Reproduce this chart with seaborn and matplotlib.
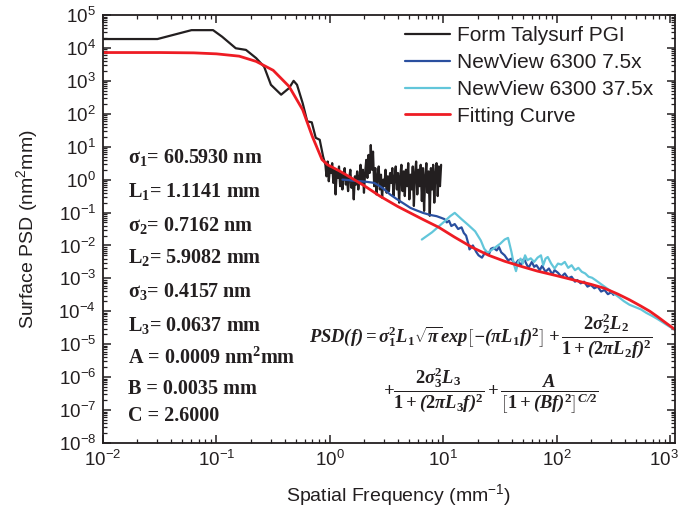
import numpy as np
import pandas as pd
import matplotlib
matplotlib.use("Agg")
import matplotlib.pyplot as plt
from matplotlib.ticker import LogLocator, NullFormatter
from matplotlib.transforms import ScaledTranslation
import seaborn as sns

# ---------------- data (log10 of frequency [mm^-1] and PSD [nm^2 mm]) -------------
talysurf_logf = [-2.0, -1.52, -1.22, -1.03, -0.95, -0.83, -0.74, -0.65, -0.58, -0.52, -0.43, -0.36, -0.32,
                 -0.29, -0.24, -0.20, -0.16, -0.125, -0.09, -0.06,
                 -0.04, -0.03, -0.02, -0.01, 0.0, 0.01, 0.02, 0.03, 0.04, 0.05, 0.06, 0.07, 0.08, 0.09, 0.10,
                 0.11, 0.12, 0.13, 0.14, 0.15, 0.16, 0.17, 0.18, 0.19, 0.20, 0.21, 0.22, 0.23, 0.24, 0.25,
                 0.26, 0.27, 0.28, 0.29, 0.30, 0.31, 0.32, 0.33, 0.34, 0.35, 0.36, 0.37, 0.38, 0.39, 0.40,
                 0.41, 0.42, 0.43, 0.44, 0.45, 0.46, 0.47, 0.48, 0.49, 0.50, 0.51, 0.52, 0.53, 0.54, 0.55,
                 0.56, 0.57, 0.58, 0.59, 0.60, 0.61, 0.62, 0.63, 0.64, 0.65, 0.66, 0.67, 0.68, 0.69, 0.70,
                 0.71, 0.72, 0.73, 0.74, 0.75, 0.76, 0.77, 0.78, 0.79, 0.80, 0.81, 0.82, 0.83, 0.84, 0.85,
                 0.86, 0.87, 0.88, 0.89, 0.90, 0.91, 0.92, 0.93, 0.94, 0.95, 0.96, 0.97, 0.98]
talysurf_logpsd = [4.27, 4.27, 4.54, 4.54, 4.34, 3.99, 3.94, 3.69, 3.43, 2.88, 2.58, 2.78, 3.0,
                   2.88, 2.32, 1.77, 1.74, 1.27, 1.21, 0.70,
                   0.45, 0.10, 0.55, -0.05, 0.35, 0.20, 0.50, -0.10, 0.30, -0.45, 0.25, 0.05, 0.40, -0.20, 0.20,
                   -0.30, 0.15, 0.35, -0.15, 0.10, -0.35, 0.05, 0.30, -0.25, 0.0, -0.60, 0.10, -0.15, 0.25, -0.30,
                   0.05, 0.45, -0.10, 0.30, -0.40, 0.20, 0.60, 0.05, 0.75, 0.20, 1.05, 0.30, 0.85, -0.20, 0.35,
                   -0.45, 0.10, 0.40, -0.30, 0.15, -0.55, 0.0, -0.20, 0.30, -0.40, 0.10, -0.35, 0.20, -0.10, 0.35,
                   -0.50, 0.05, 0.40, -0.30, 0.20, -0.70, 0.10, 0.45, -0.35, 0.25, -0.50, 0.30, -0.20, 0.50, -0.60,
                   0.15, -0.30, 0.40, -0.80, 0.20, 0.55, -0.45, 0.30, -0.20, 0.45, -0.65, 0.35, -0.95, 0.10, 0.50,
                   -0.40, 0.25, -1.10, 0.35, -0.30, 0.45, -0.70, 0.20, 0.50, -0.50, 0.40, -0.20, 0.45]

nv75_logf = [0.11, 0.15, 0.20, 0.27, 0.33, 0.39, 0.44, 0.48, 0.53, 0.58, 0.62, 0.67, 0.71, 0.76, 0.82, 0.88,
             0.94, 0.98, 1.01, 1.03, 1.05, 1.07, 1.10, 1.13, 1.16, 1.18, 1.20, 1.22, 1.23, 1.26, 1.29, 1.31,
             1.34, 1.37, 1.40, 1.42, 1.44, 1.47, 1.49, 1.51, 1.54, 1.57, 1.60, 1.63, 1.66, 1.68, 1.71, 1.73,
             1.75, 1.78, 1.80, 1.82, 1.85, 1.87, 1.90, 1.93, 1.96, 1.98, 2.01, 2.04, 2.07, 2.10, 2.13, 2.16,
             2.18, 2.21, 2.24, 2.27, 2.30, 2.33, 2.36, 2.39, 2.42, 2.45, 2.48, 2.50]
nv75_logpsd = [0.0, -0.01, -0.03, -0.05, -0.07, -0.10, -0.20, -0.30, -0.45, -0.57, -0.66, -0.77, -0.86, -0.93,
               -1.01, -1.07, -1.11, -1.16, -1.20, -1.30, -1.25, -1.41, -1.35, -1.50, -1.45, -1.62, -1.70, -1.95,
               -2.12, -2.00, -2.20, -2.30, -2.37, -2.20, -2.28, -2.10, -2.07, -2.15, -2.05, -2.21, -2.30, -2.45,
               -2.40, -2.58, -2.45, -2.62, -2.40, -2.55, -2.68, -2.50, -2.65, -2.60, -2.75, -2.62, -2.80, -2.70,
               -2.88, -2.75, -2.83, -2.95, -2.85, -3.00, -2.95, -3.10, -3.05, -3.15, -3.10, -3.25, -3.20, -3.30,
               -3.25, -3.40, -3.35, -3.48, -3.42, -3.50]

nv375_logf = [0.81, 0.90, 1.00, 1.06, 1.10, 1.16, 1.22, 1.28, 1.33, 1.36, 1.39, 1.42, 1.46, 1.50, 1.54, 1.57,
              1.60, 1.62, 1.64, 1.66, 1.68, 1.70, 1.72, 1.74, 1.77, 1.80, 1.83, 1.86, 1.88, 1.90, 1.92, 1.95,
              1.98, 2.01, 2.04, 2.07, 2.10, 2.13, 2.16, 2.19, 2.22, 2.25, 2.28, 2.31, 2.34, 2.38, 2.42, 2.46,
              2.50, 2.55, 2.59, 2.64, 2.69, 2.74, 2.79, 2.84, 2.89, 2.94, 2.99, 3.04, 3.06]
nv375_logpsd = [-1.82, -1.60, -1.30, -1.11, -1.01, -1.20, -1.38, -1.57, -1.85, -2.10, -2.22, -2.15, -2.05,
                -1.95, -1.82, -1.77, -2.20, -2.55, -2.78, -2.50, -2.40, -2.55, -2.30, -2.45, -2.39, -2.50,
                -2.37, -2.30, -2.60, -2.40, -2.35, -2.55, -2.70, -2.55, -2.58, -2.50, -2.68, -2.60, -2.75,
                -2.68, -2.80, -2.85, -2.95, -2.98, -3.05, -3.15, -3.25, -3.35, -3.45, -3.58, -3.69, -3.80,
                -3.87, -3.94, -4.05, -4.14, -4.24, -4.35, -4.46, -4.56, -4.60]

fit_logf = [-2.0, -1.5, -1.2, -1.0, -0.8, -0.65, -0.5, -0.36, -0.24, -0.155, -0.07, -0.02, 0.08, 0.15, 0.30,
            0.44, 0.60, 0.82, 0.96, 1.10, 1.25, 1.40, 1.54, 1.70, 1.83, 2.00, 2.15, 2.30, 2.42, 2.54, 2.64,
            2.74, 2.82, 2.89, 2.96, 3.04]
fit_logpsd = [3.86, 3.86, 3.85, 3.82, 3.75, 3.59, 3.32, 2.83, 2.12, 1.31, 0.61, 0.45, 0.27, 0.13, -0.18,
              -0.50, -0.82, -1.21, -1.45, -1.75, -2.05, -2.30, -2.48, -2.65, -2.78, -2.92, -3.05, -3.18,
              -3.30, -3.48, -3.65, -3.84, -4.00, -4.17, -4.35, -4.55]

series_names = ["Form Talysurf PGI", "NewView 6300 7.5x", "NewView 6300 37.5x", "Fitting Curve"]
param_labels = [r"$\sigma_1$= 60.5930 nm", r"L$_1$= 1.1141 mm", r"$\sigma_2$= 0.7162 nm",
                r"L$_2$= 5.9082 mm", r"$\sigma_3$= 0.4157 nm", r"L$_3$= 0.0637 mm",
                r"A = 0.0009 nm$^2$mm", r"B = 0.0035 mm", r"C = 2.6000"]
y_ticks = [10.0 ** k for k in range(-8, 6)]
x_ticks = [10.0 ** k for k in range(-2, 4)]

# ---------------- styling -------------
sns.set_theme(style="ticks")
plt.rcParams["font.family"] = ["Liberation Sans", "DejaVu Sans"]
plt.rcParams["mathtext.fontset"] = "custom"
plt.rcParams["mathtext.rm"] = "Liberation Serif:bold"
plt.rcParams["mathtext.it"] = "Liberation Serif:italic:bold"
plt.rcParams["mathtext.bf"] = "Liberation Serif:bold"
plt.rcParams["mathtext.default"] = "regular"
plt.rcParams["axes.unicode_minus"] = False

W, H = 681, 519
fig = plt.figure(figsize=(W / 100, H / 100), dpi=100)
L, R, T, B = 103, 675, 15, 443
ax = fig.add_axes([L / W, 1 - B / H, (R - L) / W, (B - T) / H])

colors = ["#231f20", "#2a4f9f", "#62c6da", "#ee1c24"]
widths = [1.6, 1.6, 1.6, 2.0]
data_sets = [(talysurf_logf, talysurf_logpsd), (nv75_logf, nv75_logpsd),
             (nv375_logf, nv375_logpsd), (fit_logf, fit_logpsd)]
for name, (lf, lp), c, lw in zip(series_names, data_sets, colors, widths):
    df = pd.DataFrame({"f": np.power(10.0, lf), "psd": np.power(10.0, lp)})
    sns.lineplot(data=df, x="f", y="psd", ax=ax, color=c, lw=lw, sort=False,
                 estimator=None, label=name)

ax.set_xscale("log")
ax.set_yscale("log")
ax.set_xlim(0.01, 1100)
ax.set_ylim(1e-8, 1e5)
ax.set_yticks(y_ticks)
ax.set_xticks(x_ticks)
ax.yaxis.set_minor_locator(LogLocator(base=10, subs=np.arange(2, 10), numticks=100))
ax.xaxis.set_minor_locator(LogLocator(base=10, subs=np.arange(2, 10), numticks=100))
ax.yaxis.set_minor_formatter(NullFormatter())
ax.xaxis.set_minor_formatter(NullFormatter())
ax.tick_params(which="both", direction="in", top=True, right=True, color="#231f20")
ax.tick_params(which="major", length=5.5, width=1.1, labelsize=13.5, pad=5, labelcolor="#231f20")
ax.tick_params(which="minor", length=3, width=0.9)
for s in ax.spines.values():
    s.set_linewidth(1.3)
    s.set_color("#231f20")
ax.grid(False)

ax.set_xlabel("")
ax.set_ylabel("")
fig.text(((L + R) / 2 + 10) / W, 1 - 495 / H, r"Spatial Frequency (mm$^{-1}$)", ha="center", va="center",
         fontsize=14, color="#231f20")
fig.text(27 / W, 1 - 229 / H, r"Surface PSD (nm$^2$mm)", ha="center", va="center", rotation=90,
         fontsize=14, color="#231f20")

leg = ax.legend(loc="upper left", bbox_to_anchor=(405 / W, 1 - 26 / H), bbox_transform=fig.transFigure,
                frameon=False, fontsize=15, handlelength=2.15, handletextpad=0.35, labelspacing=0.38,
                borderpad=0, borderaxespad=0)
for t in leg.get_texts():
    t.set_color("#231f20")

param_y = [157, 192, 225, 258, 292, 325, 358, 389, 416]
for txt, yy in zip(param_labels, param_y):
    fig.text(128 / W, 1 - yy / H, txt, ha="left", va="center", fontsize=14.5, family="Liberation Serif",
             weight="bold", color="#231f20")

line1 = (r"$PSD(f) = \sigma_{\mathrm{1}}^{\mathrm{2}}L_{\mathrm{1}}\sqrt{\pi}exp\left[-(\pi L_{\mathrm{1}}f)"
         r"^{\mathrm{2}}\right]+\dfrac{\mathrm{2}\sigma_{\mathrm{2}}^{\mathrm{2}}L_{\mathrm{2}}}"
         r"{\mathrm{1}+(\mathrm{2}\pi L_{\mathrm{2}}f)^{\mathrm{2}}}$")
line2 = (r"$+\dfrac{\mathrm{2}\sigma_{\mathrm{3}}^{\mathrm{2}}L_{\mathrm{3}}}{\mathrm{1}+(\mathrm{2}\pi "
         r"L_{\mathrm{3}}f)^{\mathrm{2}}}+\dfrac{A}{\left[\mathrm{1}+(Bf)^{\mathrm{2}}\right]^{C/\mathrm{2}}}$")
fig.text(481 / W, 1 - 336 / H, line1, ha="center", va="center", fontsize=13.3, family="Liberation Serif",
         weight="bold", style="italic", color="#231f20")
fig.text(491 / W, 1 - 391 / H, line2, ha="center", va="center", fontsize=13.3, family="Liberation Serif",
         weight="bold", style="italic", color="#231f20")

# keep the last x tick label inside the canvas
fig.canvas.draw()
last = ax.xaxis.get_major_ticks()[-1].label1
last.set_transform(last.get_transform() + ScaledTranslation(-6 / 100, 0, fig.dpi_scale_trans))

fig.savefig("out.png", dpi=100)
